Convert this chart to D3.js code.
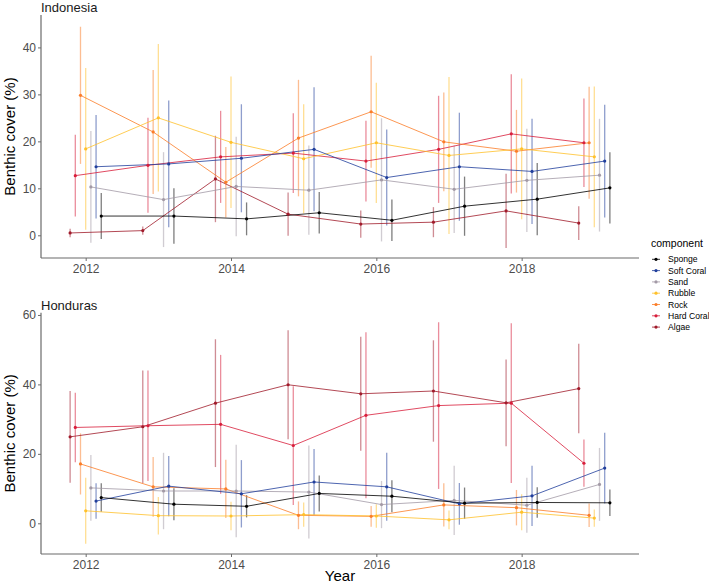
<!DOCTYPE html>
<meta charset="utf-8">
<body style="margin:0;background:#fff">
<!-- Load d3.js -->
<script src="https://d3js.org/d3.v7.min.js"></script>
<div id="my_dataviz"></div>
</body>

<script>

// Years and the benthic components (legend order)
const years = [2012, 2013, 2014, 2015, 2016, 2017, 2018, 2019];
const components = ["Sponge", "Soft Coral", "Sand", "Rubble", "Rock", "Hard Coral", "Algae"];
const componentColors = ["#000000", "#213f9c", "#a39aa6", "#ffc12b", "#fb7d28", "#d81e3b", "#a01b2b"];

// Indonesia: mean cover (%) per component, rows follow `components`
const indonesiaMean = [
  [4.1, 4.1, 3.5, 4.8, 3.2, 6.2, 7.7, 10.1],
  [14.6, 15.2, 16.4, 18.3, 12.3, 14.6, 13.6, 15.8],
  [10.3, 7.6, 10.4, 9.6, 11.8, 9.8, 11.7, 12.8],
  [18.4, 25.0, 19.8, 16.3, 19.7, 17.0, 18.4, 16.7],
  [29.8, 22.0, 11.3, 20.7, 26.3, 19.9, 17.9, 19.7],
  [12.7, 14.9, 16.7, 17.5, 15.8, 18.3, 21.6, 19.7],
  [0.5, 1.0, 12.0, 4.5, 2.4, 2.8, 5.2, 2.6]
];
// Indonesia: standard deviation
const indonesiaSd = [
  [4.9, 5.9, 3.5, 4.4, 4.4, 6.3, 7.7, 7.6],
  [11.0, 13.5, 11.5, 13.2, 10.2, 11.5, 11.2, 12.0],
  [11.9, 10.1, 10.6, 9.5, 13.1, 9.3, 11.0, 12.0],
  [17.2, 15.7, 14.0, 11.6, 12.8, 16.7, 15.0, 15.0],
  [14.6, 13.2, 7.5, 12.4, 11.9, 10.5, 8.8, 11.9],
  [8.7, 10.1, 9.8, 8.5, 8.6, 11.4, 12.7, 9.4],
  [0.9, 0.9, 9.2, 4.6, 2.9, 3.2, 7.9, 3.6]
];

// Honduras: mean cover (%)
const hondurasMean = [
  [7.4, 5.5, 4.9, 8.6, 7.8, 5.8, 6.0, 5.9],
  [6.4, 10.7, 8.5, 11.9, 10.5, 5.6, 7.9, 15.9],
  [10.2, 9.3, 9.3, 9.0, 5.4, 6.6, 5.2, 11.2],
  [3.6, 2.2, 2.1, 2.5, 2.1, 1.0, 3.2, 1.5],
  [17.1, 10.5, 9.9, 2.3, 2.0, 5.3, 4.5, 2.3],
  [27.6, 28.1, 28.5, 22.4, 31.1, 33.9, 34.6, 17.3],
  [24.9, 27.8, 34.6, 39.9, 37.3, 38.1, 34.7, 38.8]
];
// Honduras: standard deviation
const hondurasSd = [
  [4.1, 4.6, 3.2, 5.2, 4.6, 4.5, 4.4, 3.8],
  [5.1, 8.7, 9.7, 9.5, 9.8, 6.0, 8.7, 10.2],
  [9.5, 11.0, 13.3, 13.4, 6.8, 10.0, 7.9, 10.5],
  [9.5, 5.4, 4.1, 3.5, 3.4, 2.7, 5.2, 2.5],
  [8.8, 8.6, 8.4, 4.0, 3.0, 6.2, 5.1, 3.4],
  [10.0, 15.9, 20.0, 17.1, 23.9, 24.0, 23.0, 6.8],
  [13.2, 16.2, 18.4, 15.7, 16.4, 14.6, 12.5, 12.9]
];

const xTicks = [2012, 2014, 2016, 2018];
const indonesiaTicks = [0, 10, 20, 30, 40];
const hondurasTicks = [0, 20, 40, 60];

// Layout
const W = 709, H = 583;
const left = 41, right = 639;
const font = "'Liberation Sans', Arial, sans-serif";
const dodgeWidth = 0.5;

const svg = d3.select("#my_dataviz")
  .append("svg")
    .attr("width", W)
    .attr("height", H)
    .style("font-family", font);

const x = d3.scaleLinear()
  .domain([2011.385, 2019.615])
  .range([left, right]);

const color = d3.scaleOrdinal()
  .domain(components)
  .range(componentColors);

// dodge: Algae left-most, Sponge right-most
function dodge(ci) {
  const k = components.length - 1 - ci;
  return (k - (components.length - 1) / 2) * dodgeWidth / components.length;
}

function drawPanel(title, means, sds, yDomain, yTicks, top, bottom, tickLabelY) {
  const y = d3.scaleLinear().domain(yDomain).range([bottom, top]);
  const g = svg.append("g");

  // build the long table for this site
  const series = components.map(function(c, ci) {
    return years.map(function(yr, j) {
      return {component: c, ci: ci, year: yr, mean: means[ci][j], sd: sds[ci][j]};
    });
  });

  // error bars
  series.slice().reverse().forEach(function(s) {
    g.selectAll(null)
      .data(s)
      .join("line")
        .attr("x1", d => x(d.year + dodge(d.ci)))
        .attr("x2", d => x(d.year + dodge(d.ci)))
        .attr("y1", d => y(d.mean - d.sd))
        .attr("y2", d => y(d.mean + d.sd))
        .style("stroke", d => color(d.component))
        .style("stroke-width", 1.3)
        .style("opacity", 0.5);
  });

  // lines
  const line = d3.line()
    .x(d => x(d.year + dodge(d.ci)))
    .y(d => y(d.mean));
  g.selectAll(null)
    .data(series.slice().reverse())
    .join("path")
      .attr("d", line)
      .style("fill", "none")
      .style("stroke", s => color(s[0].component))
      .style("stroke-width", 1)
      .style("opacity", 0.8);

  // points
  series.forEach(function(s) {
    g.selectAll(null)
      .data(s)
      .join("circle")
        .attr("cx", d => x(d.year + dodge(d.ci)))
        .attr("cy", d => y(d.mean))
        .attr("r", 1.6)
        .style("fill", d => color(d.component));
  });

  // axes
  const yAxis = g.append("g")
    .attr("transform", `translate(${left},0)`)
    .call(d3.axisLeft(y).tickValues(yTicks).tickSize(3).tickPadding(2));
  const xAxis = g.append("g")
    .attr("transform", `translate(0,${bottom})`)
    .call(d3.axisBottom(x).tickValues(xTicks).tickFormat(d3.format("d")).tickSize(3).tickPadding(3));
  [yAxis, xAxis].forEach(function(a) {
    a.select(".domain").style("stroke", "#6b6b6b").style("stroke-width", 1.2)
      .attr("d", null);
    a.selectAll(".tick line").style("stroke", "#6b6b6b");
    a.selectAll(".tick text")
      .style("font-family", font)
      .style("font-size", "12px")
      .style("fill", "#4d4d4d");
  });
  yAxis.select(".domain").attr("d", `M0,${top}V${bottom}`);
  xAxis.select(".domain").attr("d", `M${left},0H${right}`);

  // panel title
  g.append("text")
    .attr("x", left)
    .attr("y", top - 3)
    .style("font-size", "13px")
    .style("fill", "#1a1a1a")
    .text(title);

  // y axis title
  g.append("text")
    .attr("transform", `translate(15,${(top + bottom) / 2}) rotate(-90)`)
    .attr("text-anchor", "middle")
    .style("font-size", "15px")
    .style("fill", "#000")
    .text("Benthic cover (%)");
}

drawPanel("Indonesia", indonesiaMean, indonesiaSd, [-4.83, 46.9], indonesiaTicks, 15, 258);
drawPanel("Honduras", hondurasMean, hondurasSd, [-8.84, 60.65], hondurasTicks, 312.7, 554);

// x axis title
svg.append("text")
  .attr("x", (left + right) / 2)
  .attr("y", 581)
  .attr("text-anchor", "middle")
  .style("font-size", "15px")
  .style("fill", "#000")
  .text("Year");

// legend
const legend = svg.append("g").attr("transform", "translate(651,0)");
legend.append("text")
  .attr("x", 0)
  .attr("y", 246.5)
  .style("font-size", "10.5px")
  .style("fill", "#000")
  .text("component");
const item = legend.selectAll(".item")
  .data(components)
  .join("g")
    .attr("class", "item")
    .attr("transform", (d, i) => `translate(0,${259.3 + i * 11.3})`);
item.append("line")
  .attr("x1", 1).attr("x2", 9)
  .style("stroke", d => color(d))
  .style("stroke-width", 1)
  .style("opacity", 0.8);
item.append("circle")
  .attr("cx", 5).attr("r", 1.6)
  .style("fill", d => color(d));
item.append("text")
  .attr("x", 17)
  .attr("y", 3)
  .style("font-size", "8.6px")
  .style("fill", "#000")
  .text(d => d);

</script>
